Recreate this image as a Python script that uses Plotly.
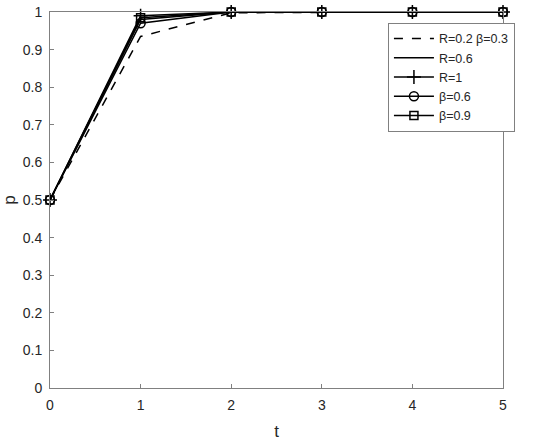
import plotly.graph_objects as go

t = [0, 1, 2, 3, 4, 5]
p_r02_b03 = [0.5, 0.935, 0.998, 1.0, 1.0, 1.0]
p_r06 = [0.5, 0.98, 1.0, 1.0, 1.0, 1.0]
p_r1 = [0.5, 0.99, 1.0, 1.0, 1.0, 1.0]
p_b06 = [0.5, 0.97, 1.0, 1.0, 1.0, 1.0]
p_b09 = [0.5, 0.985, 1.0, 1.0, 1.0, 1.0]

x_ticks = [0, 1, 2, 3, 4, 5]
y_ticks = [0, 0.1, 0.2, 0.3, 0.4, 0.5, 0.6, 0.7, 0.8, 0.9, 1]
y_tick_text = ["0", "0.1", "0.2", "0.3", "0.4", "0.5", "0.6", "0.7", "0.8", "0.9", "1"]

fig = go.Figure()

fig.add_trace(go.Scatter(x=t, y=p_r02_b03, mode="lines", name="R=0.2 β=0.3",
                         cliponaxis=False,
                         line=dict(color="black", width=1.5, dash="dash")))
fig.add_trace(go.Scatter(x=t, y=p_r06, mode="lines", name="R=0.6",
                         cliponaxis=False,
                         line=dict(color="black", width=1.5)))
fig.add_trace(go.Scatter(x=t, y=p_r1, mode="lines+markers", name="R=1",
                         cliponaxis=False,
                         line=dict(color="black", width=1.5),
                         marker=dict(symbol="cross-thin", size=10,
                                     line=dict(color="black", width=1.5))))
fig.add_trace(go.Scatter(x=t, y=p_b06, mode="lines+markers", name="β=0.6",
                         cliponaxis=False,
                         line=dict(color="black", width=1.5),
                         marker=dict(symbol="circle-open", size=9, color="black",
                                     line=dict(width=1.5))))
fig.add_trace(go.Scatter(x=t, y=p_b09, mode="lines+markers", name="β=0.9",
                         cliponaxis=False,
                         line=dict(color="black", width=1.5),
                         marker=dict(symbol="square-open", size=8, color="black",
                                     line=dict(width=1.5))))

axis_style = dict(
    showline=True, mirror=True, linecolor="#808080", linewidth=1,
    ticks="inside", ticklen=4, tickcolor="#808080",
    showgrid=False, zeroline=False, automargin=False,
    ticklabelstandoff=4,
    tickfont=dict(family="Liberation Sans, Arial", size=14, color="#262626"),
)

fig.update_layout(
    width=550,
    height=441,
    margin=dict(l=50, r=47, t=12, b=53),
    paper_bgcolor="white",
    plot_bgcolor="white",
    font=dict(family="Liberation Sans, Arial", size=14, color="#262626"),
    xaxis=dict(range=[0, 5], tickvals=x_ticks,
               title=dict(text="t", standoff=14), **axis_style),
    yaxis=dict(range=[0, 1], tickvals=y_ticks, ticktext=y_tick_text,
               title=dict(text="p", standoff=12), **axis_style),
    legend=dict(x=0.746, y=0.971, xanchor="left", yanchor="top",
                bgcolor="white", bordercolor="#808080", borderwidth=1,
                font=dict(size=12.5, color="#262626"),
                tracegroupgap=0, itemwidth=40),
    showlegend=True,
)

# drop the default 8px body margin so the figure sits at the page corner
fig.write_html("out.html", config={"displayModeBar": False},
               post_script="document.body.style.margin = '0';")
